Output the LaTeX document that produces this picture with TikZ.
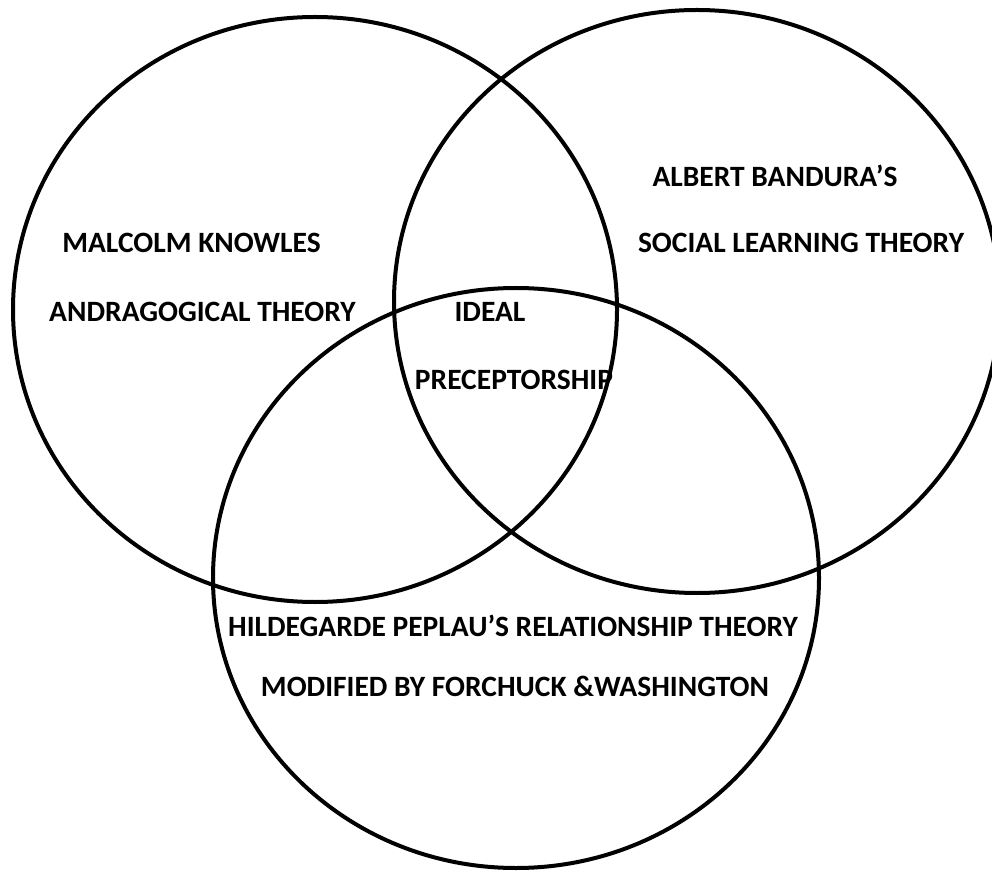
\documentclass[tikz,border=0pt]{standalone}
\usepackage{fontspec}
\setmainfont{Carlito}
\usepackage{tikz}

\begin{document}
\begin{tikzpicture}[x=1pt,y=1pt,
    ring/.style={line width=4pt},
    lbl/.style={anchor=base,inner sep=0pt,font=\fontsize{29.5}{34}\selectfont\bfseries}]
    \useasboundingbox (0,0) rectangle (992,871);
    \clip (0,0) rectangle (992,871);

    % Three overlapping circles
    \draw[ring] (315,561.5) ellipse [x radius=302,y radius=292.5];
    \draw[ring] (697,569.5) ellipse [x radius=303,y radius=291.5];
    \draw[ring] (516,293) ellipse [x radius=303,y radius=290];

    % Left circle
    \node[lbl] (knowles) at (191.5,618.6) {MALCOLM KNOWLES};
    \node[lbl] (andragogy) at (202.5,549.6) {ANDRAGOGICAL THEORY};

    % Right circle
    \node[lbl] (bandura) at (775,684.6) {ALBERT BANDURA’S};
    \node[lbl] (social) at (801,618.6) {SOCIAL LEARNING THEORY};

    % Centre
    \node[lbl] (ideal) at (490,549.6) {IDEAL};
    \node[lbl] (precept) at (514,481.6) {PRECEPTORSHIP};

    % Bottom circle
    \node[lbl] (peplau) at (513,234.6) {HILDEGARDE PEPLAU’S RELATIONSHIP THEORY};
    \node[lbl] (forchuck) at (515,174.6) {MODIFIED BY FORCHUCK \&WASHINGTON};
\end{tikzpicture}
\end{document}
